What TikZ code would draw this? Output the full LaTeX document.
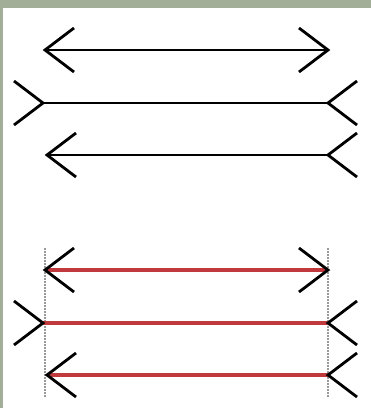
\documentclass[tikz,border=0pt]{standalone}
\usepackage{tikz}
\usetikzlibrary{calc}

\definecolor{framegreen}{HTML}{A3AE98}
\definecolor{linered}{HTML}{C0393D}

\begin{document}
\begin{tikzpicture}[x=1pt, y=-1pt, line join=miter,
      shaft/.style={line width=2.8pt, black},
      redshaft/.style={line width=3.6pt, linered},
      fin/.style={line width=2.8pt, black},
      guide/.style={gray!80, line width=1.3pt, dash pattern=on 1.5pt off 1.5pt}]

    \def\fx{29}  % fin length along x
    \def\fy{22}  % fin spread along y
    \def\xl{45}  % left end
    \def\xr{328} % right end

    % frame
    \useasboundingbox (0,0) rectangle (371,408);
    \fill[framegreen] (0,0) rectangle (371,408);
    \fill[white] (3,8) rectangle (370.5,408);

    % upper figure: end points
    \coordinate (a1) at (\xl,50);  \coordinate (b1) at (\xr,50);
    \coordinate (a2) at (43,103);  \coordinate (b2) at (\xr,103);
    \coordinate (a3) at (47,155);  \coordinate (b3) at (\xr,155);

    % lower figure: end points
    \coordinate (a4) at (\xl,270); \coordinate (b4) at (\xr,270);
    \coordinate (a5) at (43,323);  \coordinate (b5) at (\xr,323);
    \coordinate (a6) at (47,375);  \coordinate (b6) at (\xr,375);

    % dotted guides
    \coordinate (g1) at (\xl,248); \coordinate (g2) at (\xl,398);
    \coordinate (g3) at (\xr,248); \coordinate (g4) at (\xr,398);
    \draw[guide] (g1) -- (g2);
    \draw[guide] (g3) -- (g4);

    % shafts
    \foreach \i in {1,2,3} \draw[shaft] (a\i) -- (b\i);
    \foreach \i in {4,5,6} \draw[redshaft] (a\i) -- (b\i);

    % fins
    \foreach \i in {1,4} {
      \draw[fin] ($(a\i)+(\fx,-\fy)$) -- (a\i) -- ($(a\i)+(\fx,\fy)$);
      \draw[fin] ($(b\i)+(-\fx,-\fy)$) -- (b\i) -- ($(b\i)+(-\fx,\fy)$);
    }
    \foreach \i in {2,5} {
      \draw[fin] ($(a\i)+(-\fx,-\fy)$) -- (a\i) -- ($(a\i)+(-\fx,\fy)$);
      \draw[fin] ($(b\i)+(\fx,-\fy)$) -- (b\i) -- ($(b\i)+(\fx,\fy)$);
    }
    \foreach \i in {3,6} {
      \draw[fin] ($(a\i)+(\fx,-\fy)$) -- (a\i) -- ($(a\i)+(\fx,\fy)$);
      \draw[fin] ($(b\i)+(\fx,-\fy)$) -- (b\i) -- ($(b\i)+(\fx,\fy)$);
    }

\end{tikzpicture}
\end{document}
